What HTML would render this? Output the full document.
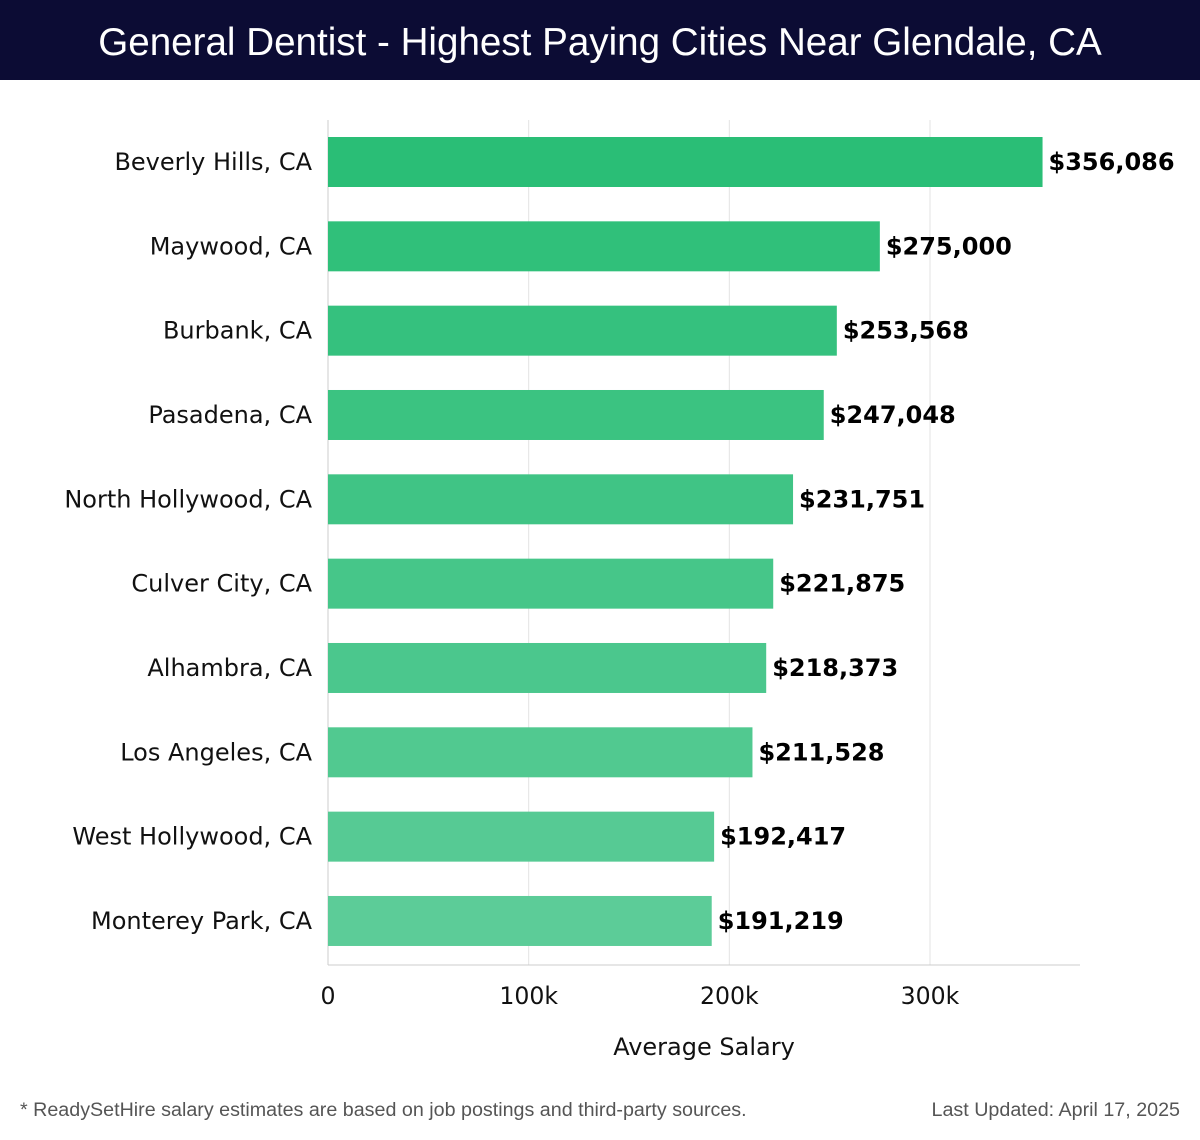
<!DOCTYPE html>
<html><head><meta charset="utf-8">
<style>
body{margin:0;width:1200px;height:1140px;background:#fff;overflow:hidden;font-family:"DejaVu Sans","Liberation Sans",sans-serif;}
#hdr{position:absolute;left:0;top:0;width:1200px;height:80px;background:#0c0c34;color:#fff;font-family:"Liberation Sans",sans-serif;font-size:38.6px;line-height:86px;text-align:center;}
#foot-l{position:absolute;left:20px;top:1099px;font-size:19.7px;color:#555;font-family:"Liberation Sans",sans-serif;}
#foot-r{position:absolute;right:20px;top:1099px;font-size:19.7px;color:#555;font-family:"Liberation Sans",sans-serif;}
</style></head><body>
<div id="hdr">General Dentist - Highest Paying Cities Near Glendale, CA</div>
<svg id="chart" width="1200" height="1140" style="position:absolute;left:0;top:0;pointer-events:none"></svg>
<div id="foot-l">* ReadySetHire salary estimates are based on job postings and third-party sources.</div>
<div id="foot-r">Last Updated: April 17, 2025</div>
<script>
const categories=["Beverly Hills, CA","Maywood, CA","Burbank, CA","Pasadena, CA","North Hollywood, CA","Culver City, CA","Alhambra, CA","Los Angeles, CA","West Hollywood, CA","Monterey Park, CA"];
const salaries=[356086,275000,253568,247048,231751,221875,218373,211528,192417,191219];
const xTicks=[0,100000,200000,300000];
const xTickLabels=["0","100k","200k","300k"];
const NS="http://www.w3.org/2000/svg";
const svg=document.getElementById('chart');
const x0=328,pxPer=(930-328)/300000,top0=120,step=84.33,barH=50;
const x=v=>x0+v*pxPer;
const yc=i=>162+i*step;
function mk(t,a,p){const e=document.createElementNS(NS,t);for(const k in a)e.setAttribute(k,a[k]);(p||svg).appendChild(e);return e;}
xTicks.forEach((v,i)=>{
  const g=mk('line',{x1:x(v),x2:x(v),y1:top0,y2:965,stroke:i==0?'#ccc':'#e3e3e3','stroke-width':1});
  
  
  const t=mk('text',{x:x(v),y:1004,'text-anchor':'middle','font-size':23.6,fill:'#111'});
  t.textContent=xTickLabels[i];
  
  
});
const base=mk('line',{x1:x0,x2:1080,y1:965,y2:965,stroke:'#ccc'});


categories.forEach((c,i)=>{
  const f=i/(categories.length-1);
  const r=Math.round(0x2a+(0x5c-0x2a)*f),g=Math.round(0xbe+(0xcc-0xbe)*f),b=Math.round(0x76+(0x98-0x76)*f);
  const bar=mk('rect',{x:x0,y:yc(i)-barH/2,width:x(salaries[i])-x0,height:barH,fill:`rgb(${r},${g},${b})`});
  
  
  const l=mk('text',{x:312,y:yc(i)+8,'text-anchor':'end','font-size':24,fill:'#111'});
  l.textContent=c;
  
  
  const v=mk('text',{x:x(salaries[i])+6,y:yc(i)+8,'font-size':24,'font-weight':'bold',fill:'#000'});
  v.textContent='$'+salaries[i].toLocaleString('en-US');
  
  
});
const xt=mk('text',{x:704,y:1055,'text-anchor':'middle','font-size':24,fill:'#111'});
xt.textContent='Average Salary';


</script>
</body></html>
